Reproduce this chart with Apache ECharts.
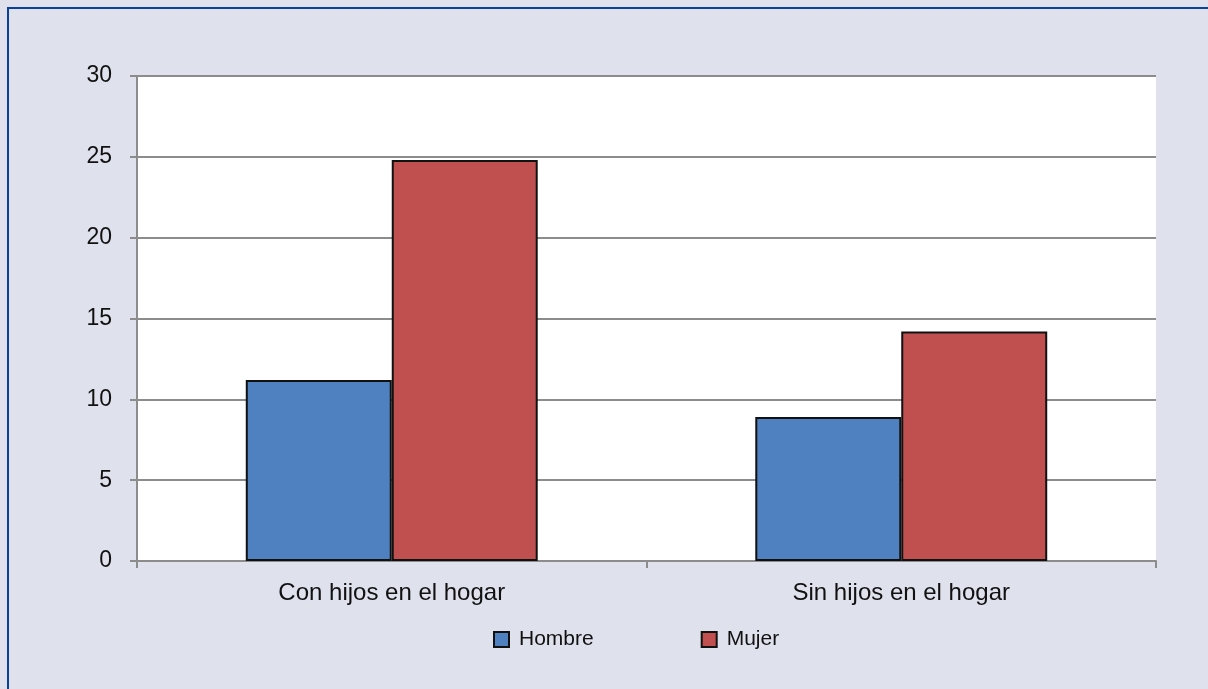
<!DOCTYPE html>
<html>
<head>
<meta charset="utf-8">
<script src="https://cdn.jsdelivr.net/npm/echarts@6/dist/echarts.min.js"></script>
<style>
html,body{margin:0;padding:0;background:#dfe1ed;}
#c{width:1208px;height:689px;}
</style>
</head>
<body>
<div id="c"></div>
<script>
var categories = ['Con hijos en el hogar', 'Sin hijos en el hogar'];
var hombre = [11.2, 8.9];
var mujer = [24.8, 14.2];
var yTicks = [0, 5, 10, 15, 20, 25, 30];

var chart = echarts.init(document.getElementById('c'));
var font = "'Liberation Sans', Arial, Helvetica, sans-serif";
chart.setOption({
  backgroundColor: '#dfe1ed',
  animation: false,
  textStyle: {fontFamily: font},
  graphic: [
    {type: 'rect', shape: {x: 7, y: 7, width: 1210, height: 2}, style: {fill: '#0b3f9f'}},
    {type: 'rect', shape: {x: 7, y: 7, width: 2, height: 700}, style: {fill: '#0b3f9f'}}
  ],
  grid: {left: 137, right: 52, top: 76, bottom: 128, show: true, backgroundColor: '#ffffff', borderWidth: 0, containLabel: false},
  legend: {
    data: ['Hombre', 'Mujer'],
    top: 629,
    left: 493,
    padding: 0,
    itemWidth: 15,
    itemHeight: 15,
    itemGap: 107,
    icon: 'rect',
    textStyle: {fontSize: 21, color: '#111', fontFamily: font, padding: [0, 0, 0, 5]}
  },
  xAxis: {
    type: 'category',
    data: categories,
    axisLine: {lineStyle: {color: '#8c8c8c', width: 2}},
    axisTick: {show: true, length: 7, lineStyle: {color: '#8c8c8c', width: 2}},
    axisLabel: {fontSize: 24, color: '#111', margin: 20, fontFamily: font}
  },
  yAxis: {
    type: 'value',
    min: 0,
    max: 30,
    interval: 5,
    axisLine: {show: true, lineStyle: {color: '#8c8c8c', width: 2}},
    axisTick: {show: true, length: 7, lineStyle: {color: '#8c8c8c', width: 2}},
    axisLabel: {fontSize: 23, color: '#111', margin: 25, fontFamily: font,
      formatter: function (v) { return yTicks.indexOf(v) >= 0 ? String(v) : ''; }},
    splitLine: {show: true, lineStyle: {color: '#8c8c8c', width: 2}}
  },
  series: [
    {name: 'Hombre', type: 'bar', data: hombre, barGap: '0%', barCategoryGap: '42.7%',
      itemStyle: {color: '#4f81c1', borderColor: '#111', borderWidth: 2}},
    {name: 'Mujer', type: 'bar', data: mujer, barGap: '0%', barCategoryGap: '42.7%',
      itemStyle: {color: '#c0504f', borderColor: '#111', borderWidth: 2}}
  ]
});
</script>
</body>
</html>
